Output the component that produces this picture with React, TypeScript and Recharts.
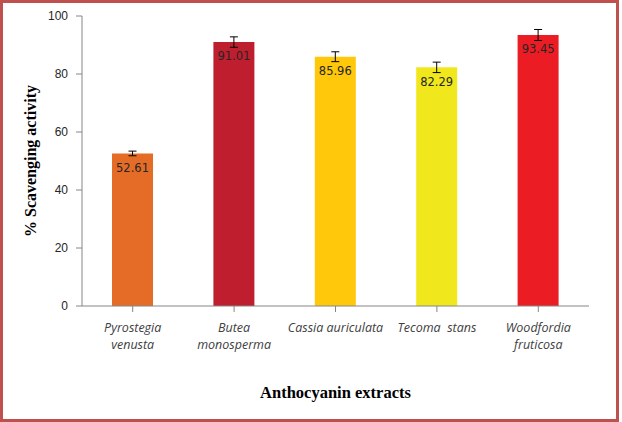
import { Bar, BarChart, Cell, ErrorBar, LabelList, XAxis, YAxis } from 'recharts';

const extracts = [
  'Pyrostegia venusta',
  'Butea monosperma',
  'Cassia auriculata',
  'Tecoma  stans',
  'Woodfordia fruticosa',
];
const tickLines = [
  ['Pyrostegia', 'venusta'],
  ['Butea', 'monosperma'],
  ['Cassia auriculata'],
  ['Tecoma  stans'],
  ['Woodfordia', 'fruticosa'],
];
const scavenging = [52.61, 91.01, 85.96, 82.29, 93.45];
const errors = [0.8, 1.8, 1.7, 1.8, 1.9];
const barColors = ['#E46C27', '#BE1E2D', '#FFC80A', '#F0E81C', '#EC1C24'];
const yTicks = [0, 20, 40, 60, 80, 100];

const data = extracts.map((name, i) => ({
  name,
  value: scavenging[i],
  err: errors[i],
}));

const CategoryTick = ({ x, y, index }: any) => {
  const lines = tickLines[index] || [];
  return (
    <g transform={`translate(${x},${y})`}>
      {lines.map((line, i) => (
        <text
          key={i}
          x={0}
          y={18 + i * 17}
          textAnchor='middle'
          fontFamily='"Open Sans", "Noto Sans", sans-serif'
          fontStyle='italic'
          fontSize={12.5}
          fill='#404040'
          style={{ whiteSpace: 'pre' }}
        >
          {line}
        </text>
      ))}
    </g>
  );
};

const App = () => {
  return (
    <div
      style={{
        position: 'fixed',
        top: 0,
        left: 0,
        width: 622,
        height: 422,
        background: '#fff',
      }}
    >
      <div
        style={{
          position: 'absolute',
          left: 0,
          top: 0,
          width: 613,
          height: 416,
          border: '3px solid #C0504D',
        }}
      />
      <div style={{ position: 'absolute', left: 0, top: 0 }}>
        <BarChart
          width={622}
          height={422}
          data={data}
          margin={{ top: 16, right: 33, left: 0, bottom: 0 }}
        >
          <XAxis
            dataKey='name'
            height={116}
            stroke='#868686'
            tickLine={{ stroke: '#868686' }}
            tick={<CategoryTick />}
            interval={0}
            label={{
              value: 'Anthocyanin extracts',
              position: 'insideBottom',
              offset: 24,
              fontFamily: '"Liberation Serif", "Times New Roman", serif',
              fontWeight: 'bold',
              fontSize: 16.5,
              fill: '#000',
            }}
          />
          <YAxis
            width={82}
            domain={[0, 100]}
            ticks={yTicks}
            stroke='#868686'
            tickSize={6}
            tickMargin={8}
            tick={{
              fontFamily: '"Liberation Sans", Arial, sans-serif',
              fontSize: 12,
              fill: '#262626',
            }}
            label={{
              value: '% Scavenging activity',
              angle: -90,
              position: 'insideLeft',
              offset: 30,
              fontFamily: '"Liberation Serif", "Times New Roman", serif',
              fontWeight: 'bold',
              fontSize: 16,
              fill: '#000',
              style: { textAnchor: 'middle' },
            }}
          />
          <Bar dataKey='value' barSize={41} isAnimationActive={false}>
            {data.map((_, i) => (
              <Cell key={`cell-${i}`} fill={barColors[i]} />
            ))}
            <ErrorBar dataKey='err' width={4} stroke='#000' strokeWidth={1} />
            <LabelList
              dataKey='value'
              position='insideTop'
              offset={10}
              fontFamily='"DejaVu Sans", Verdana, sans-serif'
              fontSize={11.5}
              fill='#262626'
            />
          </Bar>
        </BarChart>
      </div>
    </div>
  );
};

export default App;
